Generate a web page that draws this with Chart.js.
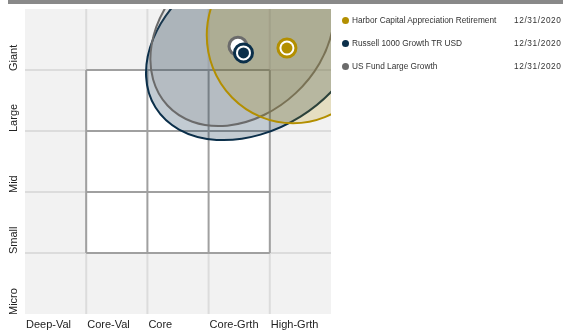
<!DOCTYPE html>
<html lang="en">
  <head>
    <meta charset="UTF-8" />
    <title>Ownership Zone</title>
    <script src="https://cdn.jsdelivr.net/npm/chart.js"></script>
    <style>
      body {
        margin: 0;
        background: #fff;
        font-family: "Liberation Sans", Arial, sans-serif;
      }
      #wrap {
        position: relative;
        width: 563px;
        height: 336px;
        overflow: hidden;
      }
      #topbar {
        position: absolute;
        left: 8px;
        top: 0;
        width: 555px;
        height: 4px;
        background: #898989;
      }
      .item {
        position: absolute;
        left: 342px;
        height: 10px;
        font-size: 8.3px;
        line-height: 10px;
        color: #333;
        white-space: nowrap;
      }
      .item .dot {
        position: absolute;
        left: 0;
        top: 1.5px;
        width: 7px;
        height: 7px;
        border-radius: 50%;
      }
      .item .name {
        position: absolute;
        left: 10px;
      }
      .item .date {
        position: absolute;
        left: 172px;
        letter-spacing: 0.6px;
      }
    </style>
  </head>
  <body>
    <div id="wrap">
      <canvas id="zoneChart" width="563" height="336"></canvas>
      <div id="topbar"></div>
      <div id="legend"></div>
    </div>

    <script>
      // axis labels
      const colLabels = ["Deep-Val", "Core-Val", "Core", "Core-Grth", "High-Grth"];
      const rowLabels = ["Micro", "Small", "Mid", "Large", "Giant"];

      // series
      const seriesNames = [
        "Harbor Capital Appreciation Retirement",
        "Russell 1000 Growth TR USD",
        "US Fund Large Growth",
      ];
      const seriesDates = ["12/31/2020", "12/31/2020", "12/31/2020"];
      const seriesColors = ["#b38f00", "#0b2f4a", "#6b6b6b"];

      // centroid points (style box units, 0..5)
      const pointX = [4.28, 3.57, 3.48];
      const pointY = [4.36, 4.28, 4.39];

      // ownership zones: centre, semi axes, tilt (deg)
      const zoneX = [4.38, 3.77, 3.55];
      const zoneY = [4.57, 4.41, 4.56];
      const zoneA = [1.41, 1.93, 1.67];
      const zoneB = [1.44, 1.38, 1.28];
      const zoneTilt = [0, 32, 43];
      const zoneAlpha = [0.2, 0.25, 0.15];

      function hexToRgba(hex, a) {
        const n = parseInt(hex.slice(1), 16);
        return `rgba(${(n >> 16) & 255}, ${(n >> 8) & 255}, ${n & 255}, ${a})`;
      }

      // legend
      const legend = document.getElementById("legend");
      seriesNames.forEach((name, i) => {
        const el = document.createElement("div");
        el.className = "item";
        el.style.top = 15 + i * 23 + "px";
        el.innerHTML = `<span class="dot" style="background:${seriesColors[i]}"></span>
          <span class="name">${name}</span>
          <span class="date">${seriesDates[i]}</span>`;
        legend.appendChild(el);
      });

      // background grid, style box and zones
      const zonePlugin = {
        id: "zones",
        beforeDatasetsDraw(chart) {
          const { ctx, chartArea: a, scales } = chart;
          const xs = scales.x;
          const ys = scales.y;
          const px = (v) => xs.getPixelForValue(v);
          const py = (v) => ys.getPixelForValue(v);

          ctx.save();
          ctx.fillStyle = "#f2f2f2";
          ctx.fillRect(a.left, a.top, a.right - a.left, a.bottom - a.top);

          // light outer grid
          ctx.strokeStyle = "#dcdcdc";
          ctx.lineWidth = 2;
          for (let i = 1; i <= 4; i++) {
            ctx.beginPath();
            ctx.moveTo(px(i), a.top);
            ctx.lineTo(px(i), a.bottom);
            ctx.moveTo(a.left, py(i));
            ctx.lineTo(a.right, py(i));
            ctx.stroke();
          }

          // inner 3x3 box
          ctx.fillStyle = "#ffffff";
          ctx.fillRect(px(1), py(4), px(4) - px(1), py(1) - py(4));
          ctx.strokeStyle = "#a0a0a0";
          for (let i = 1; i <= 4; i++) {
            ctx.beginPath();
            ctx.moveTo(px(i), py(1));
            ctx.lineTo(px(i), py(4));
            ctx.moveTo(px(1), py(i));
            ctx.lineTo(px(4), py(i));
            ctx.stroke();
          }

          // zones, clipped to the plot
          ctx.beginPath();
          ctx.rect(a.left, a.top, a.right - a.left, a.bottom - a.top);
          ctx.clip();
          const unit = px(1) - px(0);
          [1, 2, 0].forEach((i) => {
            ctx.beginPath();
            ctx.ellipse(
              px(zoneX[i]),
              py(zoneY[i]),
              zoneA[i] * unit,
              zoneB[i] * unit,
              (-zoneTilt[i] * Math.PI) / 180,
              0,
              Math.PI * 2
            );
            ctx.fillStyle = hexToRgba(seriesColors[i], zoneAlpha[i]);
            ctx.fill();
            ctx.strokeStyle = seriesColors[i];
            ctx.lineWidth = 2;
            ctx.stroke();
          });
          ctx.restore();
        },
        afterDraw(chart) {
          const { ctx, chartArea: a, scales } = chart;
          ctx.save();
          ctx.fillStyle = "#222";
          ctx.font = '11px "Liberation Sans", Arial, sans-serif';
          ctx.textBaseline = "middle";
          ctx.textAlign = "left";
          colLabels.forEach((lab, i) => {
            ctx.fillText(lab, scales.x.getPixelForValue(i) + 1, a.bottom + 11);
          });
          rowLabels.forEach((lab, i) => {
            ctx.save();
            ctx.translate(14, scales.y.getPixelForValue(i) + 1);
            ctx.rotate(-Math.PI / 2);
            ctx.fillText(lab, 0, 0);
            ctx.restore();
          });
          ctx.restore();
        },
      };

      // points: outer ring + inner disc for each series
      const datasets = [];
      const drawOrder = [2, 1, 0]; // gray under navy under gold
      let ord = 10;
      drawOrder.forEach((i) => {
        datasets.push({
          label: seriesNames[i] + " ring",
          data: [{ x: pointX[i], y: pointY[i] }],
          pointRadius: 9,
          pointBorderWidth: 3,
          pointBorderColor: seriesColors[i],
          pointBackgroundColor: "#ffffff",
          order: ord--,
        });
        if (i !== 2) {
          datasets.push({
            label: seriesNames[i],
            data: [{ x: pointX[i], y: pointY[i] }],
            pointRadius: 5.5,
            pointBorderWidth: 0,
            pointBackgroundColor: seriesColors[i],
            order: ord--,
          });
        }
      });

      new Chart(document.getElementById("zoneChart"), {
        type: "scatter",
        data: { datasets: datasets },
        options: {
          responsive: false,
          animation: false,
          layout: {
            autoPadding: false,
            padding: { left: 25, top: 9, right: 232, bottom: 22 },
          },
          scales: {
            x: { type: "linear", min: 0, max: 5, display: false },
            y: { type: "linear", min: 0, max: 5, display: false },
          },
          plugins: {
            legend: { display: false },
            tooltip: { enabled: false },
          },
        },
        plugins: [zonePlugin],
      });
    </script>
  </body>
</html>
